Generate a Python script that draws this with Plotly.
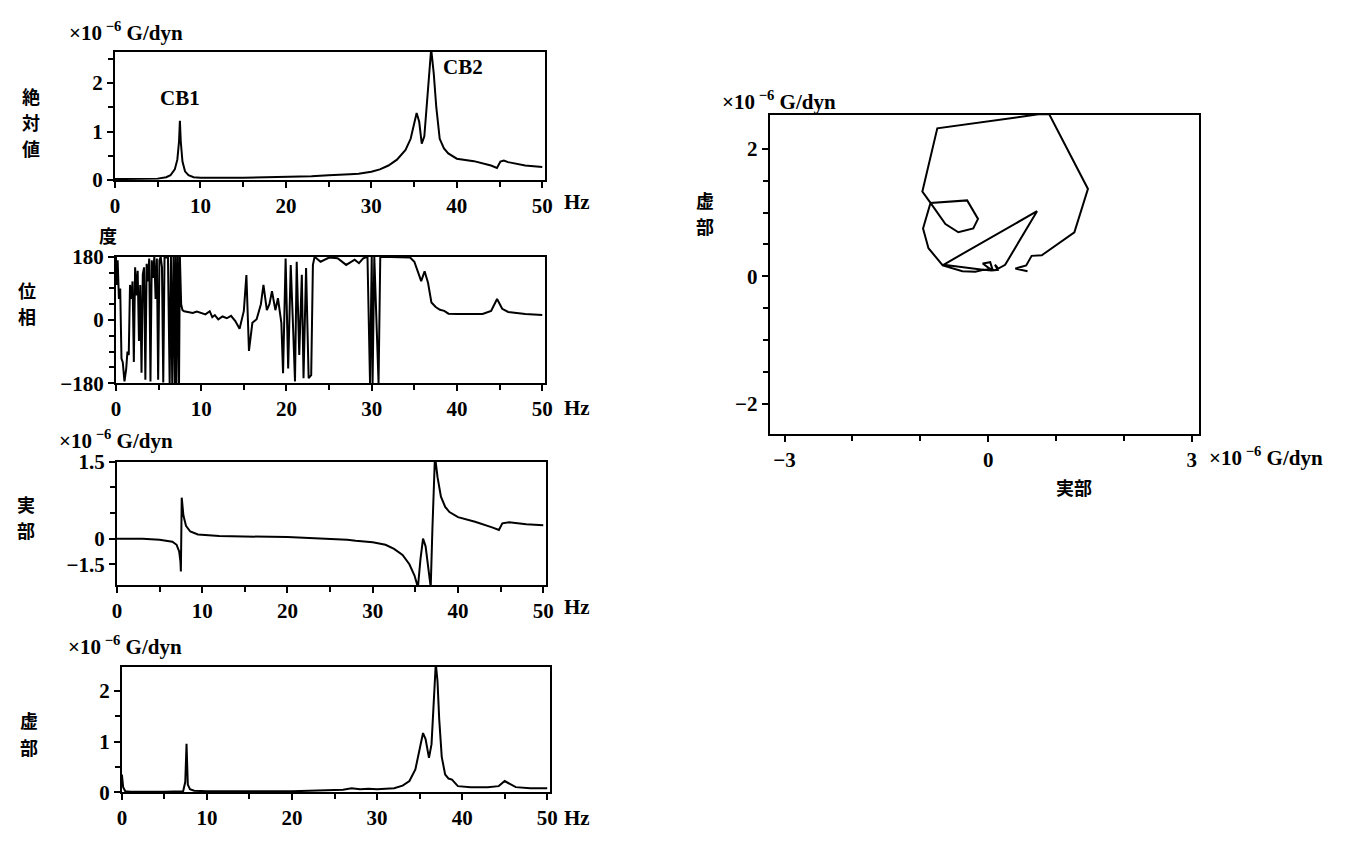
import plotly.graph_objects as go

W, H = 1370, 845

# ---------------- data ----------------
abs_f = [0, 3, 5, 6, 6.5, 7, 7.3, 7.5, 7.6, 7.7, 7.9, 8.2, 8.6, 9.2, 10, 15, 20, 23, 25, 26.5, 27.5, 28.5,
         30, 31, 32, 33, 34, 34.6, 35.0, 35.3, 35.6, 35.9, 36.2, 36.5, 36.8, 37.0, 37.3, 37.6, 38.0, 38.5,
         39, 40, 42, 44, 44.7, 45.1, 45.5, 46, 48, 50]
abs_v = [0.02, 0.02, 0.03, 0.06, 0.1, 0.22, 0.42, 0.8, 1.22, 0.8, 0.38, 0.18, 0.1, 0.06, 0.05, 0.05, 0.06, 0.08, 0.1, 0.12, 0.12, 0.13,
         0.17, 0.22, 0.3, 0.42, 0.62, 0.85, 1.15, 1.38, 1.2, 0.75, 0.9, 1.6, 2.4, 2.7, 2.2, 1.5, 0.85, 0.65,
         0.55, 0.44, 0.39, 0.3, 0.25, 0.38, 0.4, 0.37, 0.3, 0.27]

ph_f = [0.0, 0.1, 0.2, 0.35, 0.5, 0.65, 0.8, 1.0, 1.2, 1.35,
        1.5, 1.65, 1.8, 1.95, 2.1, 2.25, 2.4, 2.55, 2.7, 2.85,
        3.0, 3.15, 3.3, 3.45, 3.6, 3.75, 3.9, 4.05, 4.2, 4.35,
        4.5, 4.65, 4.8, 4.95, 5.1, 5.25, 5.4, 5.55, 5.7, 5.9,
        6.1, 6.3, 6.45, 6.6, 6.75, 6.9, 7.0, 7.1, 7.25, 7.4,
        7.5, 7.65, 7.8, 8.0, 8.5, 9.0, 9.5, 10.0, 10.5, 11.0,
        11.3, 11.6, 12.0, 12.5, 13.0, 13.5, 14.0, 14.5, 14.8, 15.0,
        15.3, 15.6, 16.0, 16.5, 17.0, 17.3, 17.7, 18.0, 18.3, 18.7,
        19.0, 19.4, 19.6, 19.9, 20.2, 20.5, 20.8, 21.0, 21.2, 21.5,
        21.8, 22.0, 22.3, 22.6, 22.9, 23.1, 23.3, 24.0, 25.0, 26.0,
        27.0, 27.5, 28.0, 28.5, 29.0, 29.5, 29.8, 30.0, 30.1, 30.3,
        30.8, 31.0, 33.0, 34.5, 35.0, 35.5, 35.8, 36.2, 36.6, 37.0,
        37.5, 38.0, 38.5, 39.0, 40.0, 43.0, 44.0, 44.7, 45.3, 46.0,
        47.0, 48.0, 50.0]
ph_v = [180, 100, 170, 60, 90, -110, -120, -175, -140, -90,
        -100, 100, 60, 110, -120, 150, 70, 140, -60, 100,
        -150, 130, 150, -170, 160, 110, 175, -175, 170, 120,
        180, 60, 175, -170, 170, 180, 150, -178, 178, 178,
        178, -180, 180, -180, 180, -180, 180, -180, 180, -180,
        180, 45, 28, 25, 22, 20, 24, 20, 16, 25,
        8, 14, 2, 10, 5, 12, -3, -25, 10, 26,
        128, -88, -8, 2, 45, 100, 28, 45, 82, 28,
        62, -8, -152, 175, -138, 157, -37, -175, 166, -100,
        129, -166, 148, -166, -157, 157, 180, 166, 178, 176,
        157, 165, 172, 162, 176, 180, -180, 180, -180, 180,
        -180, 180, 180, 178, 166, 129, 111, 139, 106, 50,
        37, 29, 26, 18, 17, 17, 26, 60, 32, 23,
        20, 17, 14]

re_f = [0, 3, 5, 6.5, 7.0, 7.3, 7.45, 7.5, 7.6, 7.8, 8.1, 8.6, 9.5, 12, 20, 25, 27, 28, 30, 31.5, 32.5,
        33.5, 34.3, 34.9, 35.3, 35.6, 35.9, 36.2, 36.5, 36.8, 37.0, 37.3, 37.6, 38.0, 38.5, 39, 40, 42,
        44, 44.8, 45.2, 46, 48, 50]
re_v = [0.0, 0.0, -0.02, -0.06, -0.12, -0.25, -0.45, -0.64, 0.8, 0.45, 0.25, 0.14, 0.08, 0.05, 0.03, 0.0, -0.02, -0.04, -0.07, -0.12, -0.2,
        -0.32, -0.5, -0.72, -0.95, -0.4, 0.0, -0.15, -0.6, -0.95, 0.2, 1.62, 1.2, 0.82, 0.62, 0.52, 0.42, 0.33,
        0.22, 0.17, 0.3, 0.32, 0.28, 0.26]

im_f = [0, 0.15, 0.4, 1, 5, 7.2, 7.45, 7.6, 7.75, 8.0, 8.5, 10, 20, 24, 26, 27, 28, 29, 30, 32, 33, 33.8,
        34.5, 35.0, 35.4, 35.7, 36.1, 36.4, 36.7, 36.9, 37.1, 37.3, 37.6, 38.0, 38.4, 38.8, 39.5, 41, 43,
        44.3, 45.0, 45.6, 46.3, 48, 50]
im_v = [0.35, 0.1, 0.02, 0.01, 0.01, 0.02, 0.2, 0.96, 0.15, 0.06, 0.03, 0.02, 0.02, 0.04, 0.05, 0.08, 0.06, 0.07, 0.06, 0.08, 0.13, 0.22,
        0.45, 0.85, 1.17, 1.05, 0.68, 0.95, 2.0, 2.55, 2.2, 1.45, 0.7, 0.35, 0.27, 0.25, 0.12, 0.1, 0.1,
        0.12, 0.22, 0.16, 0.1, 0.08, 0.08]

nyq_re = [0.02, -0.08, 0.03, 0.06, -0.05, -0.66, 0.72, 0.25, 0.15, 0.10, 0.14, 0.05, -0.07, -0.19, -0.38,
          -0.67, -0.88, -0.96, -0.85, -0.31, -0.15, -0.22, -0.44, -0.63, -0.85, -0.97, -0.75, 0.74, 0.90,
          1.47, 1.27, 0.79, 0.64, 0.56, 0.40, 0.58]
nyq_im = [0.12, 0.20, 0.22, 0.12, 0.10, 0.18, 1.02, 0.18, 0.12, 0.18, 0.10, 0.09, 0.10, 0.07, 0.08,
          0.17, 0.44, 0.75, 1.15, 1.19, 0.90, 0.75, 0.69, 0.82, 1.15, 1.33, 2.32, 2.54, 2.54,
          1.37, 0.69, 0.33, 0.32, 0.17, 0.12, 0.08]

assert len(ph_f) == len(ph_v)
assert len(abs_f) == len(abs_v) and len(re_f) == len(re_v) and len(im_f) == len(im_v)
assert len(nyq_re) == len(nyq_im)

freq_ticks = [0, 10, 20, 30, 40, 50]
freq_minor = [5, 15, 25, 35, 45]

# ---------------- helpers ----------------
def fx(p):
    return p / W

def fy(p):
    return 1 - p / H

TICKFONT = dict(family="Liberation Serif", size=21, color="black", weight="bold")
CJK = dict(family="Noto Sans CJK JP", size=18, color="black", weight="bold")
UNITFONT = dict(family="Liberation Serif", size=21, color="black", weight="bold")

def axis(dom, rng, tickvals, ticktext, minor_vals, anchor):
    return dict(
        domain=dom, range=rng, anchor=anchor, showline=True, linecolor="black", linewidth=2, mirror=True,
        ticks="outside", ticklen=6, tickwidth=2, tickcolor="black",
        tickvals=tickvals, ticktext=ticktext, tickfont=TICKFONT,
        showgrid=False, zeroline=False, fixedrange=True,
        minor=dict(tickvals=minor_vals, ticks="outside", ticklen=5, tickwidth=2, tickcolor="black", showgrid=False),
    )

fig = go.Figure()
line = dict(color="black", width=2)
fig.add_trace(go.Scatter(x=abs_f, y=abs_v, mode="lines", line=line, xaxis="x", yaxis="y"))
fig.add_trace(go.Scatter(x=ph_f, y=ph_v, mode="lines", line=line, xaxis="x2", yaxis="y2"))
fig.add_trace(go.Scatter(x=re_f, y=re_v, mode="lines", line=line, xaxis="x3", yaxis="y3"))
fig.add_trace(go.Scatter(x=im_f, y=im_v, mode="lines", line=line, xaxis="x4", yaxis="y4"))
fig.add_trace(go.Scatter(x=nyq_re, y=nyq_im, mode="lines", line=line, xaxis="x5", yaxis="y5"))

ftext = [str(v) for v in freq_ticks]

fig.update_layout(
    width=W, height=H, margin=dict(l=0, r=0, t=0, b=0), showlegend=False,
    paper_bgcolor="white", plot_bgcolor="white",
    xaxis=axis([fx(111), fx(545)], [0, 50.3], freq_ticks, ftext, freq_minor, "y"),
    yaxis=axis([fy(173), fy(41)], [0, 2.64], [0, 1, 2], ["0", "1", "2"], [0.5, 1.5, 2.5], "x"),
    xaxis2=axis([fx(112), fx(545)], [0, 50.3], freq_ticks, ftext, freq_minor, "y2"),
    yaxis2=axis([fy(382), fy(252)], [-180, 180], [-180, 0, 180], ["−180", "0", "180"],
                [-135, -90, -45, 45, 90, 135], "x2"),
    xaxis3=axis([fx(113), fx(546)], [0, 50.3], freq_ticks, ftext, freq_minor, "y3"),
    yaxis3=axis([fy(590), fy(463)], [-0.91, 1.5], [1.5, 0, -0.5], ["1.5", "0", "−1.5"], [1.0, 0.5], "x3"),
    xaxis4=axis([fx(118), fx(550)], [0, 50.3], freq_ticks, ftext, freq_minor, "y4"),
    yaxis4=axis([fy(803), fy(674)], [0, 2.48], [0, 1, 2], ["0", "1", "2"], [0.5, 1.5], "x4"),
    xaxis5=axis([fx(772), fx(1205)], [-3.22, 3.1], [-3, 0, 3], ["−3", "0", "3"], [-2, -1, 1, 2], "y5"),
    yaxis5=axis([fy(434), fy(106)], [-2.47, 2.53], [-2, 0, 2], ["−2", "0", "2"],
                [-1.5, -1, -0.5, 0.5, 1, 1.5], "x5"),
)

ann = []
def text(x, y, s, font, xanchor="center", yanchor="middle"):
    ann.append(dict(x=fx(x), y=fy(y), xref="paper", yref="paper", text=s, showarrow=False,
                    font=font, xanchor=xanchor, yanchor=yanchor, align="center", borderpad=0))

def vtext(x, y_top, chars, step=27):
    for i, ch in enumerate(chars):
        text(x, y_top + i * step, ch, CJK)

unit = "×10<sup> −6</sup> G/dyn"
# panel 1
text(64, 20, unit, UNITFONT, xanchor="left")
vtext(26, 86, "絶対値")
text(177, 89, "CB1", TICKFONT)
text(462, 57, "CB2", TICKFONT)
# panel 2
text(104, 230, "度", CJK)
vtext(22, 286, "位相")
# panel 3
text(54, 440, unit, UNITFONT, xanchor="left")
vtext(21, 506, "実部")
# panel 4
text(63, 652, unit, UNITFONT, xanchor="left")
vtext(24, 729, "虚部")
# Hz labels
for yy in [196, 408, 612, 830]:
    text(563, yy, "Hz", TICKFONT, xanchor="left")
# nyquist
text(723, 91, unit, UNITFONT, xanchor="left")
vtext(707, 193, "虚部")
text(1079, 489, "実部", CJK)
text(1215, 458, unit, UNITFONT, xanchor="left")
fig.update_layout(annotations=ann)

fig.write_html("out.html", config={"displayModeBar": False, "staticPlot": True},
               post_script="document.body.style.margin='0';document.body.style.overflow='hidden';")
